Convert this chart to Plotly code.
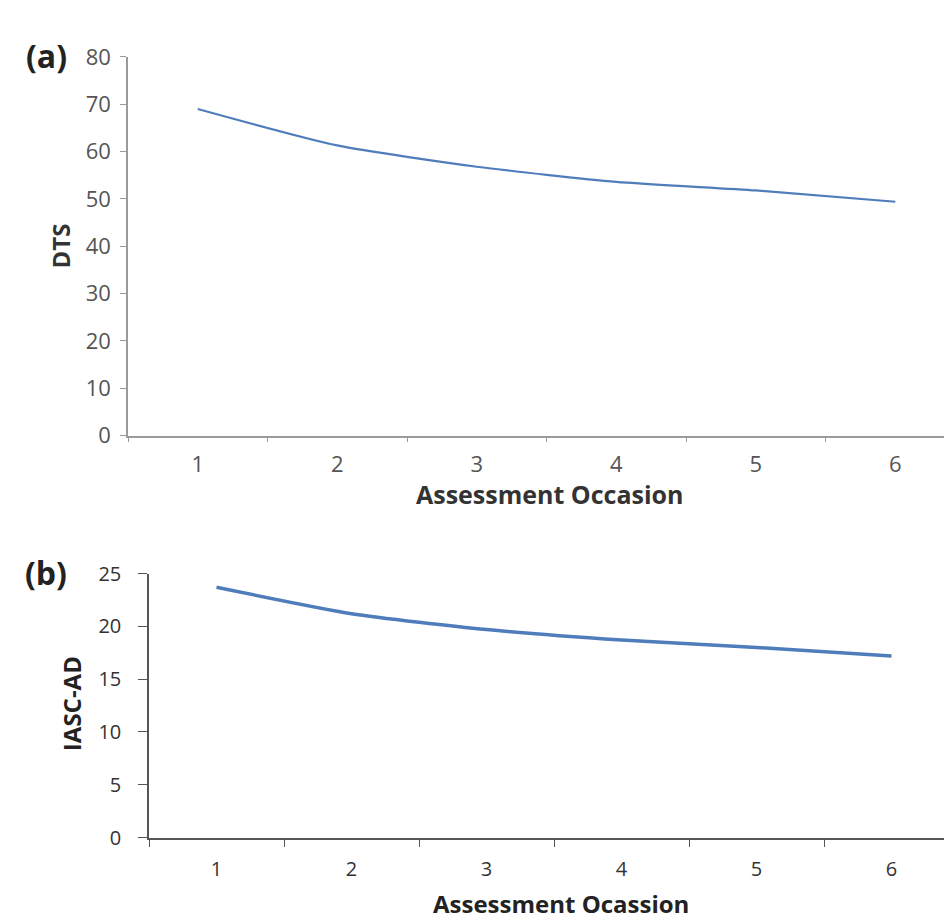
import plotly.graph_objects as go

occasions = ["1", "2", "3", "4", "5", "6"]
dts_values = [69.0, 61.3, 56.8, 53.6, 51.8, 49.4]
iasc_values = [23.7, 21.2, 19.7, 18.7, 18.0, 17.2]
dts_ticks = [0, 10, 20, 30, 40, 50, 60, 70, 80]
iasc_ticks = [0, 5, 10, 15, 20, 25]

W, H = 952, 922
FONT = "Open Sans"
LINE = "#4f7dbb"

def px_x(v):
    return v / W

def px_y(v):
    return 1 - v / H

fig = go.Figure()
fig.add_trace(go.Scatter(x=occasions, y=dts_values, mode="lines",
                         line=dict(color=LINE, width=2.2, shape="spline", smoothing=0.6),
                         xaxis="x", yaxis="y", showlegend=False))
fig.add_trace(go.Scatter(x=occasions, y=iasc_values, mode="lines",
                         line=dict(color=LINE, width=3.5, shape="spline", smoothing=0.6),
                         xaxis="x2", yaxis="y2", showlegend=False))

common_x = dict(type="category", tickson="boundaries", ticks="outside",
                showgrid=False, zeroline=False, showline=True, fixedrange=True)
common_y = dict(ticks="outside", showgrid=False, zeroline=False, showline=True)

fig.update_layout(
    width=W, height=H, margin=dict(l=0, r=0, t=0, b=0),
    paper_bgcolor="white", plot_bgcolor="white",
    font=dict(family=FONT),
    xaxis=dict(common_x, domain=[px_x(120), 1], range=[-0.5, 5.464], anchor="y",
               linecolor="#9a9a9a", tickcolor="#9a9a9a", linewidth=2, ticklen=4,
               ticklabelstandoff=8,
               tickfont=dict(size=22, color="#555555", family=FONT)),
    yaxis=dict(common_y, domain=[px_y(425.5), px_y(34)], range=[0, 80], tickvals=dts_ticks,
               anchor="x", linecolor="#9a9a9a", tickcolor="#9a9a9a", linewidth=1.5,
               ticklen=6, ticklabelstandoff=5,
               tickfont=dict(size=22, color="#555555", family=FONT)),
    xaxis2=dict(common_x, domain=[px_x(141), px_x(951)], range=[-0.5, 5.5], anchor="y2",
                linecolor="#555555", tickcolor="#555555", linewidth=2, ticklen=7,
                ticklabelstandoff=12,
                tickfont=dict(size=20, color="#333333", family=FONT)),
    yaxis2=dict(common_y, domain=[px_y(841), px_y(568)], range=[0, 25], tickvals=iasc_ticks,
                anchor="x2", linecolor="#555555", tickcolor="#555555", linewidth=1.5,
                ticklen=9, ticklabelstandoff=13,
                tickfont=dict(size=20, color="#333333", family=FONT)),
)

annos = [
    dict(text="<b>(a)</b>", x=px_x(38), y=px_y(33), size=32, color="#222222", angle=0),
    dict(text="<b>(b)</b>", x=px_x(38), y=px_y(567), size=32, color="#222222", angle=0),
    dict(text="<b>DTS</b>", x=px_x(53), y=px_y(230), size=24, color="#333333", angle=-90),
    dict(text="<b>Assessment Occasion</b>", x=px_x(542), y=px_y(486), size=25, color="#333333", angle=0),
    dict(text="<b>IASC-AD</b>", x=px_x(63), y=px_y(703), size=24, color="#222222", angle=-90),
    dict(text="<b>Assessment Ocassion</b>", x=px_x(553), y=px_y(909), size=24, color="#222222", angle=0),
]
for a in annos:
    fig.add_annotation(text=a["text"], x=a["x"], y=a["y"], xref="paper", yref="paper",
                       xanchor="center", yanchor="middle", showarrow=False, textangle=a["angle"],
                       font=dict(size=a["size"], color=a["color"], family=FONT))

fig.write_html("out.html")
